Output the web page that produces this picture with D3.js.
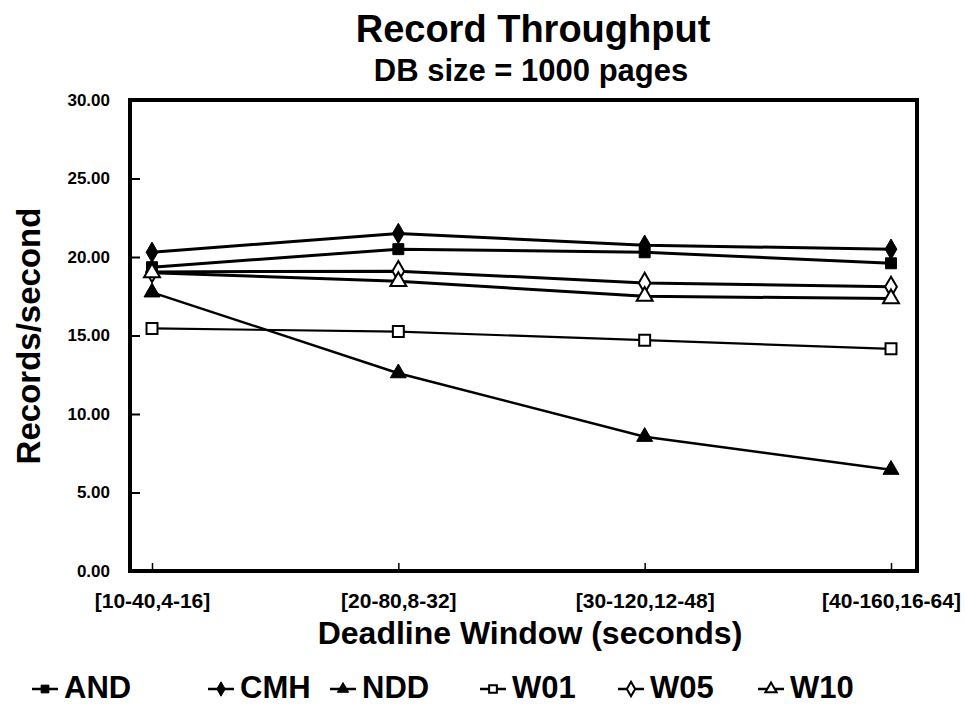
<!DOCTYPE html>
<html>
<head>
<meta charset="utf-8">
<script src="https://cdn.jsdelivr.net/npm/d3@7"></script>
<style>
  html, body { margin: 0; padding: 0; background: #fff; }
  svg { display: block; }
  text { font-family: "Liberation Sans", Arial, Helvetica, sans-serif; font-weight: bold; fill: #000; }
</style>
</head>
<body>
<svg id="chart" width="967" height="705"></svg>
<script>
// Deadline window settings along the x axis
const categories = ["[10-40,4-16]", "[20-80,8-32]", "[30-120,12-48]", "[40-160,16-64]"];

// Record throughput (records/second) per scheduling policy
const AND = [19.35, 20.5, 20.3, 19.6];
const CMH = [20.3, 21.5, 20.75, 20.5];
const NDD = [17.75, 12.6, 8.55, 6.45];
const W01 = [15.45, 15.25, 14.7, 14.15];
const W05 = [19.05, 19.1, 18.35, 18.1];
const W10 = [19.0, 18.45, 17.5, 17.35];

const yTicks = [0, 5, 10, 15, 20, 25, 30];

const series = [
  { name: "AND", values: AND, shape: "square",   filled: true,  width: 3 },
  { name: "CMH", values: CMH, shape: "diamond",  filled: true,  width: 3 },
  { name: "NDD", values: NDD, shape: "triangle", filled: true,  width: 2.5 },
  { name: "W01", values: W01, shape: "square",   filled: false, width: 2.2 },
  { name: "W05", values: W05, shape: "diamond",  filled: false, width: 3 },
  { name: "W10", values: W10, shape: "triangle", filled: false, width: 3 }
];

const svg = d3.select("#chart");
const plot = { left: 130, right: 917, top: 100, bottom: 571 };

const x = d3.scalePoint().domain(categories).range([152, 891]);
const y = d3.scaleLinear().domain([0, 30]).range([plot.bottom, plot.top]);

// Titles
svg.append("text").attr("x", 533).attr("y", 42).attr("text-anchor", "middle")
  .style("font-size", "38px").text("Record Throughput");
svg.append("text").attr("x", 531).attr("y", 81).attr("text-anchor", "middle")
  .style("font-size", "31px").text("DB size = 1000 pages");

// Axes with inward ticks
const yAxis = svg.append("g").attr("transform", `translate(${plot.left},0)`)
  .call(d3.axisLeft(y).tickValues(yTicks).tickFormat(d3.format(".2f"))
    .tickSizeInner(-10).tickSizeOuter(0).tickPadding(20));
yAxis.selectAll("text").style("font-size", "17px");
yAxis.selectAll(".tick line").attr("stroke-width", 2);
yAxis.select(".domain").remove();

const xAxis = svg.append("g").attr("transform", `translate(0,${plot.bottom})`)
  .call(d3.axisBottom(x).tickSizeInner(-8).tickSizeOuter(0).tickPadding(22));
xAxis.selectAll("text").style("font-size", "21px");
xAxis.selectAll(".tick line").attr("stroke-width", 1.5);
xAxis.select(".domain").remove();

// Plot frame
svg.append("rect")
  .attr("x", plot.left).attr("y", plot.top)
  .attr("width", plot.right - plot.left).attr("height", plot.bottom - plot.top)
  .attr("fill", "none").attr("stroke", "#000").attr("stroke-width", 4);

// Axis titles
svg.append("text").attr("transform", "translate(40,336) rotate(-90)")
  .attr("text-anchor", "middle").style("font-size", "33px").text("Records/second");
svg.append("text").attr("x", 530).attr("y", 644).attr("text-anchor", "middle")
  .style("font-size", "32px").text("Deadline Window (seconds)");

// Marker shapes
const symbolFor = {
  square: d3.symbolSquare,
  diamond: d3.symbolDiamond,
  triangle: d3.symbolTriangle
};
const sizeFor = { square: 120, diamond: 120, triangle: 110 };

function drawMarker(g, s, cx, cy, scale) {
  g.append("path")
    .attr("d", d3.symbol().type(symbolFor[s.shape]).size(sizeFor[s.shape] * scale)())
    .attr("transform", `translate(${cx},${cy})`)
    .attr("fill", s.filled ? "#000" : "#fff")
    .attr("stroke", "#000")
    .attr("stroke-width", s.filled ? 1 : 2);
}

const line = d3.line().x((d, i) => x(categories[i])).y(d => y(d));

const lines = svg.append("g");
series.forEach(s => {
  lines.append("path").datum(s.values)
    .attr("d", line).attr("fill", "none")
    .attr("stroke", "#000").attr("stroke-width", s.width);
});
const marks = svg.append("g");
series.forEach(s => {
  s.values.forEach((v, i) => drawMarker(marks, s, x(categories[i]), y(v), 1));
});

// Legend
const legendX = [32, 208, 330, 480, 618, 758];
const legend = svg.append("g");
series.forEach((s, i) => {
  const g = legend.append("g").attr("transform", `translate(${legendX[i]},686)`);
  g.append("line").attr("x1", 0).attr("x2", 26).attr("y1", 3).attr("y2", 3)
    .attr("stroke", "#000").attr("stroke-width", 2.5);
  drawMarker(g, s, 13, 3, 0.5);
  g.append("text").attr("x", 32).attr("y", 12).style("font-size", "31px").text(s.name);
});
</script>
</body>
</html>
